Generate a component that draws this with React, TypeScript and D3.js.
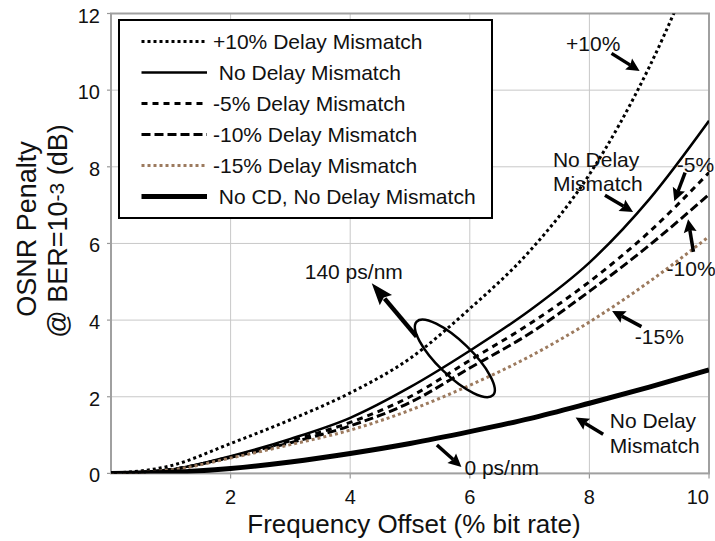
import React from 'react';
import * as d3 from 'd3';

// ---------- data ----------
const xValues = [0, 1, 2, 3, 4, 5, 6, 7, 8, 9, 10];
const plus10 = [0, 0.2, 0.78, 1.4, 2.1, 3.0, 4.3, 5.8, 7.8, 10.6, 14.2];
const noMismatch = [0, 0.1, 0.45, 0.9, 1.45, 2.25, 3.2, 4.25, 5.5, 7.15, 9.2];
const minus5 = [0, 0.1, 0.43, 0.85, 1.33, 2.0, 2.95, 3.9, 5.0, 6.3, 7.85];
const minus10 = [0, 0.1, 0.42, 0.8, 1.24, 1.85, 2.75, 3.65, 4.75, 5.95, 7.28];
const minus15 = [0, 0.09, 0.4, 0.75, 1.13, 1.65, 2.3, 3.05, 3.95, 5.0, 6.18];
const noCD = [0, 0.03, 0.13, 0.3, 0.52, 0.78, 1.09, 1.43, 1.83, 2.25, 2.7];

const seriesLabels = [
  '+10% Delay Mismatch',
  ' No Delay Mismatch',
  '-5% Delay Mismatch',
  '-10% Delay Mismatch',
  '-15% Delay Mismatch',
  ' No CD, No Delay Mismatch',
];
const seriesValues = [plus10, noMismatch, minus5, minus10, minus15, noCD];

const xTicks = [2, 4, 6, 8, 10];
const yTicks = [0, 2, 4, 6, 8, 10, 12];

const xTitle = 'Frequency Offset (% bit rate)';
const yTitle1 = 'OSNR Penalty';

// annotations (data units): text, text position, arrow from -> to
const annotations = [
  { lines: ['+10%'], tx: 7.61, ty: 11.02, ax: [8.37, 10.96, 8.84, 10.5] },
  { lines: ['No Delay', 'Mismatch'], tx: 7.39, ty: 8.0, ax: [8.26, 7.26, 8.73, 6.82] },
  { lines: ['-5%'], tx: 9.46, ty: 7.86, ax: [9.6, 7.85, 9.42, 7.1] },
  { lines: ['-10%'], tx: 9.29, ty: 5.15, ax: [9.74, 5.78, 9.65, 6.63] },
  { lines: ['-15%'], tx: 8.76, ty: 3.38, ax: [8.87, 3.83, 8.38, 4.24] },
  { lines: ['No Delay', 'Mismatch'], tx: 8.34, ty: 1.18, ax: [8.23, 1.02, 7.77, 1.46] },
  { lines: ['0 ps/nm'], tx: 5.91, ty: -0.05, ax: [5.45, 0.74, 5.86, 0.17] },
];
const bigArrow = { text: '140 ps/nm', tx: 3.24, ty: 5.06, ax: [5.11, 3.57, 4.36, 4.96] };
const ellipseCenter = [5.75, 3.0];

// ---------- styles ----------
const W = 715;
const H = 541;
const FONT = '"Liberation Sans", Arial, Helvetica, sans-serif';
const styles = [
  { color: '#000', width: 3, dash: '3,3' },
  { color: '#000', width: 2.5, dash: null },
  { color: '#000', width: 3, dash: '6,5' },
  { color: '#000', width: 3, dash: '9,4' },
  { color: '#9c7a5e', width: 3, dash: '3,3' },
  { color: '#000', width: 5, dash: null },
];

function Arrow({ x1, y1, x2, y2, head = 13, half = 6.5, sw = 3.5 }) {
  const dx = x2 - x1;
  const dy = y2 - y1;
  const len = Math.sqrt(dx * dx + dy * dy);
  const ux = dx / len;
  const uy = dy / len;
  const bx = x2 - ux * head;
  const by = y2 - uy * head;
  const px = -uy;
  const py = ux;
  const pts = [
    [x2, y2],
    [bx + px * half, by + py * half],
    [bx + ux * head * 0.15, by + uy * head * 0.15],
    [bx - px * half, by - py * half],
  ];
  return (
    <g>
      <line x1={x1} y1={y1} x2={bx + ux * 2} y2={by + uy * 2} stroke="#000" strokeWidth={sw} />
      <polygon points={pts.map((p) => p.join(',')).join(' ')} fill="#000" />
    </g>
  );
}

export default function App() {
  const x = d3.scaleLinear().domain([0, 10]).range([111, 709]);
  const y = d3.scaleLinear().domain([0, 12]).range([473.4, 13.5]);
  const line = d3
    .line<number>()
    .x((_, i) => x(xValues[i]))
    .y((d) => y(d))
    .curve(d3.curveMonotoneX);

  const left = x(0);
  const right = x(10);
  const top = y(12);
  const bottom = y(0);

  const legendX = 119;
  const legendY = 20;
  const legendW = 373;
  const legendH = 198;
  const rowY = (i: number) => legendY + 21.5 + i * 31;

  const [ecx, ecy] = ellipseCenter;

  return (
    <svg
      width={W}
      height={H}
      style={{ position: 'absolute', left: 0, top: 0, background: '#fff' }}
      fontFamily={FONT}
    >
      <defs>
        <clipPath id="plotClip">
          <rect x={left} y={top} width={right - left} height={bottom - top} />
        </clipPath>
      </defs>
      <rect x={0} y={0} width={W} height={H} fill="#fff" />
      {/* grid */}
      {xTicks.map((t) => (
        <line key={'gx' + t} x1={x(t)} x2={x(t)} y1={top} y2={bottom} stroke="#c8c8c8" strokeWidth={1} />
      ))}
      {yTicks.map((t) => (
        <line key={'gy' + t} x1={left} x2={right} y1={y(t)} y2={y(t)} stroke="#c8c8c8" strokeWidth={1} />
      ))}
      {/* ticks */}
      {xTicks.map((t) => (
        <line key={'tx' + t} x1={x(t)} x2={x(t)} y1={bottom} y2={bottom + 5} stroke="#999" strokeWidth={1.2} />
      ))}
      {yTicks.map((t) => (
        <line key={'ty' + t} x1={left - 4} x2={left} y1={y(t)} y2={y(t)} stroke="#999" strokeWidth={1.2} />
      ))}
      {/* frame */}
      <rect x={left} y={top} width={right - left} height={bottom - top} fill="none" stroke="#a0a0a0" strokeWidth={2} />

      {/* tick labels */}
      {xTicks.map((t) => (
        <text
          key={'lx' + t}
          x={Math.min(x(t), W - 1)}
          y={bottom + 31}
          fontSize={20}
          textAnchor={x(t) + 12 > W ? 'end' : 'middle'}
          fill="#111"
        >
          {t}
        </text>
      ))}
      {yTicks.map((t) => (
        <text key={'ly' + t} x={100} y={y(t) + 9} fontSize={20} textAnchor="end" fill="#111">
          {t}
        </text>
      ))}

      {/* axis titles */}
      <text x={414} y={532.5} fontSize={26} textAnchor="middle" fill="#111">
        {xTitle}
      </text>
      <text transform="translate(36,229) rotate(-90)" fontSize={27} textAnchor="middle" fill="#111">
        {yTitle1}
      </text>
      <text transform="translate(67,231) rotate(-90)" fontSize={27} textAnchor="middle" fill="#111">
        <tspan>@ BER=10</tspan>
        <tspan fontSize={21} dy={-3}>-3</tspan>
        <tspan dy={3}>{'  (dB)'}</tspan>
      </text>

      {/* series */}
      <g clipPath="url(#plotClip)">
        {seriesValues.map((vals, i) => (
          <path
            key={'s' + i}
            d={line(vals) || ''}
            fill="none"
            stroke={styles[i].color}
            strokeWidth={styles[i].width}
            strokeDasharray={styles[i].dash || undefined}
          />
        ))}
      </g>

      {/* legend */}
      <rect x={legendX} y={legendY} width={legendW} height={legendH} fill="#fff" stroke="#000" strokeWidth={2} />
      {seriesLabels.map((lab, i) => (
        <g key={'lg' + i}>
          <line
            x1={141.5}
            x2={207}
            y1={rowY(i)}
            y2={rowY(i)}
            stroke={styles[i].color}
            strokeWidth={styles[i].width}
            strokeDasharray={styles[i].dash || undefined}
          />
          <text x={213} y={rowY(i) + 7.5} fontSize={21} fill="#111" style={{ whiteSpace: 'pre' }}>
            {lab}
          </text>
        </g>
      ))}

      {/* annotations */}
      {annotations.map((a, i) => (
        <g key={'an' + i}>
          {a.lines.map((l, j) => (
            <text key={j} x={x(a.tx)} y={y(a.ty) + j * 24.5} fontSize={21} fill="#111">
              {l}
            </text>
          ))}
          <Arrow x1={x(a.ax[0])} y1={y(a.ax[1])} x2={x(a.ax[2])} y2={y(a.ax[3])} />
        </g>
      ))}
      <text x={x(bigArrow.tx)} y={y(bigArrow.ty)} fontSize={21} fill="#111">
        {bigArrow.text}
      </text>
      <Arrow
        x1={x(bigArrow.ax[0])}
        y1={y(bigArrow.ax[1])}
        x2={x(bigArrow.ax[2])}
        y2={y(bigArrow.ax[3])}
        head={22}
        half={8}
        sw={4.5}
      />
      <ellipse
        cx={x(ecx)}
        cy={y(ecy)}
        rx={53}
        ry={17}
        transform={`rotate(44 ${x(ecx)} ${y(ecy)})`}
        fill="none"
        stroke="#000"
        strokeWidth={2.5}
      />
    </svg>
  );
}
